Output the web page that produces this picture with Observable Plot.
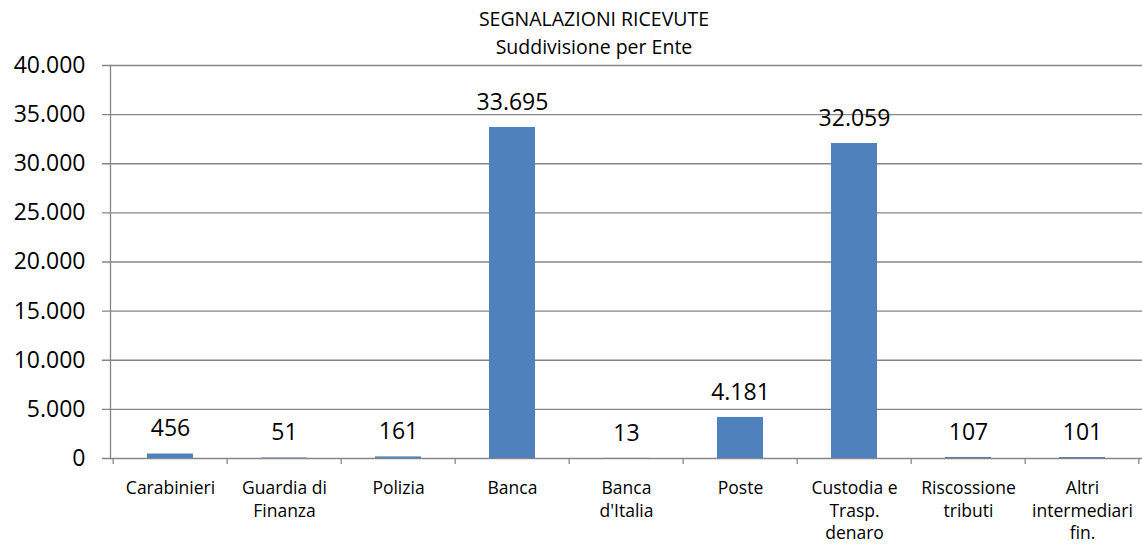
<!DOCTYPE html>
<html>
<head>
<meta charset="utf-8">
<script src="https://cdn.jsdelivr.net/npm/d3@7"></script>
<script src="https://cdn.jsdelivr.net/npm/@observablehq/plot@0.6"></script>
<style>
  body { margin: 0; background: #fff; font-family: "Open Sans", sans-serif; }
  #wrap { position: relative; width: 1142px; height: 544px; }
  #title { position: absolute; top: 5px; left: 23px; width: 1142px; text-align: center; font-size: 19.5px; line-height: 28px; color: #000; }
</style>
</head>
<body>
<div id="wrap">
  <div id="chart"></div>
  <div id="title">SEGNALAZIONI RICEVUTE<br>Suddivisione per Ente</div>
</div>
<script>
const categories = ["Carabinieri", "Guardia di Finanza", "Polizia", "Banca", "Banca d'Italia", "Poste", "Custodia e Trasp. denaro", "Riscossione tributi", "Altri intermediari fin."];
const categoryLabels = ["Carabinieri", "Guardia di\nFinanza", "Polizia", "Banca", "Banca\nd'Italia", "Poste", "Custodia e\nTrasp.\ndenaro", "Riscossione\ntributi", "Altri\nintermediari\nfin."];
const values = [456, 51, 161, 33695, 13, 4181, 32059, 107, 101];
const yTicks = [0, 5000, 10000, 15000, 20000, 25000, 30000, 35000, 40000];

const data = categories.map((c, i) => ({cat: c, value: values[i]}));
const labelOf = new Map(categories.map((c, i) => [c, categoryLabels[i]]));
const itFmt = d3.formatLocale({decimal: ",", thousands: ".", grouping: [3], currency: ["", "€"]}).format(",d");

const W = 1142, ML = 110, MR = 0;
const step = (W - ML - MR) / categories.length;
const grey = "#868686";

const chart = Plot.plot({
  width: W,
  height: 544,
  marginTop: 65,
  marginBottom: 86,
  marginLeft: ML,
  marginRight: MR,
  style: {fontFamily: "Open Sans, sans-serif", color: "#000", background: "#fff"},
  x: {domain: categories, paddingInner: 0.6, paddingOuter: 0.3},
  y: {domain: [0, 40000]},
  marks: [
    Plot.ruleY(yTicks, {y: d => d, stroke: grey, strokeWidth: 1.3, insetLeft: -8}),
    Plot.frame({anchor: "left", stroke: grey, strokeWidth: 1.3}),
    Plot.ruleX(categories, {x: d => d, dx: -step / 2, y1: 0, y2: 0, insetBottom: -6, stroke: grey, strokeWidth: 1.3}),
    Plot.ruleX([categories[categories.length - 1]], {x: d => d, dx: step / 2 - 1, y1: 0, y2: 0, insetBottom: -6, stroke: grey, strokeWidth: 1.3}),
    Plot.barY(data, {x: "cat", y: "value", fill: "#4F81BD"}),
    Plot.text(data, {x: "cat", y: "value", text: d => itFmt(d.value), dy: -25, fontSize: 23, fill: "#000"}),
    Plot.axisY({ticks: yTicks, tickSize: 0, tickPadding: 25, tickFormat: d => itFmt(d), fontSize: 23, label: null}),
    Plot.axisX({tickSize: 0, tickPadding: 20, tickFormat: d => labelOf.get(d), fontSize: 17.5, lineHeight: 1.28, label: null})
  ]
});
document.getElementById("chart").appendChild(chart);
</script>
</body>
</html>
